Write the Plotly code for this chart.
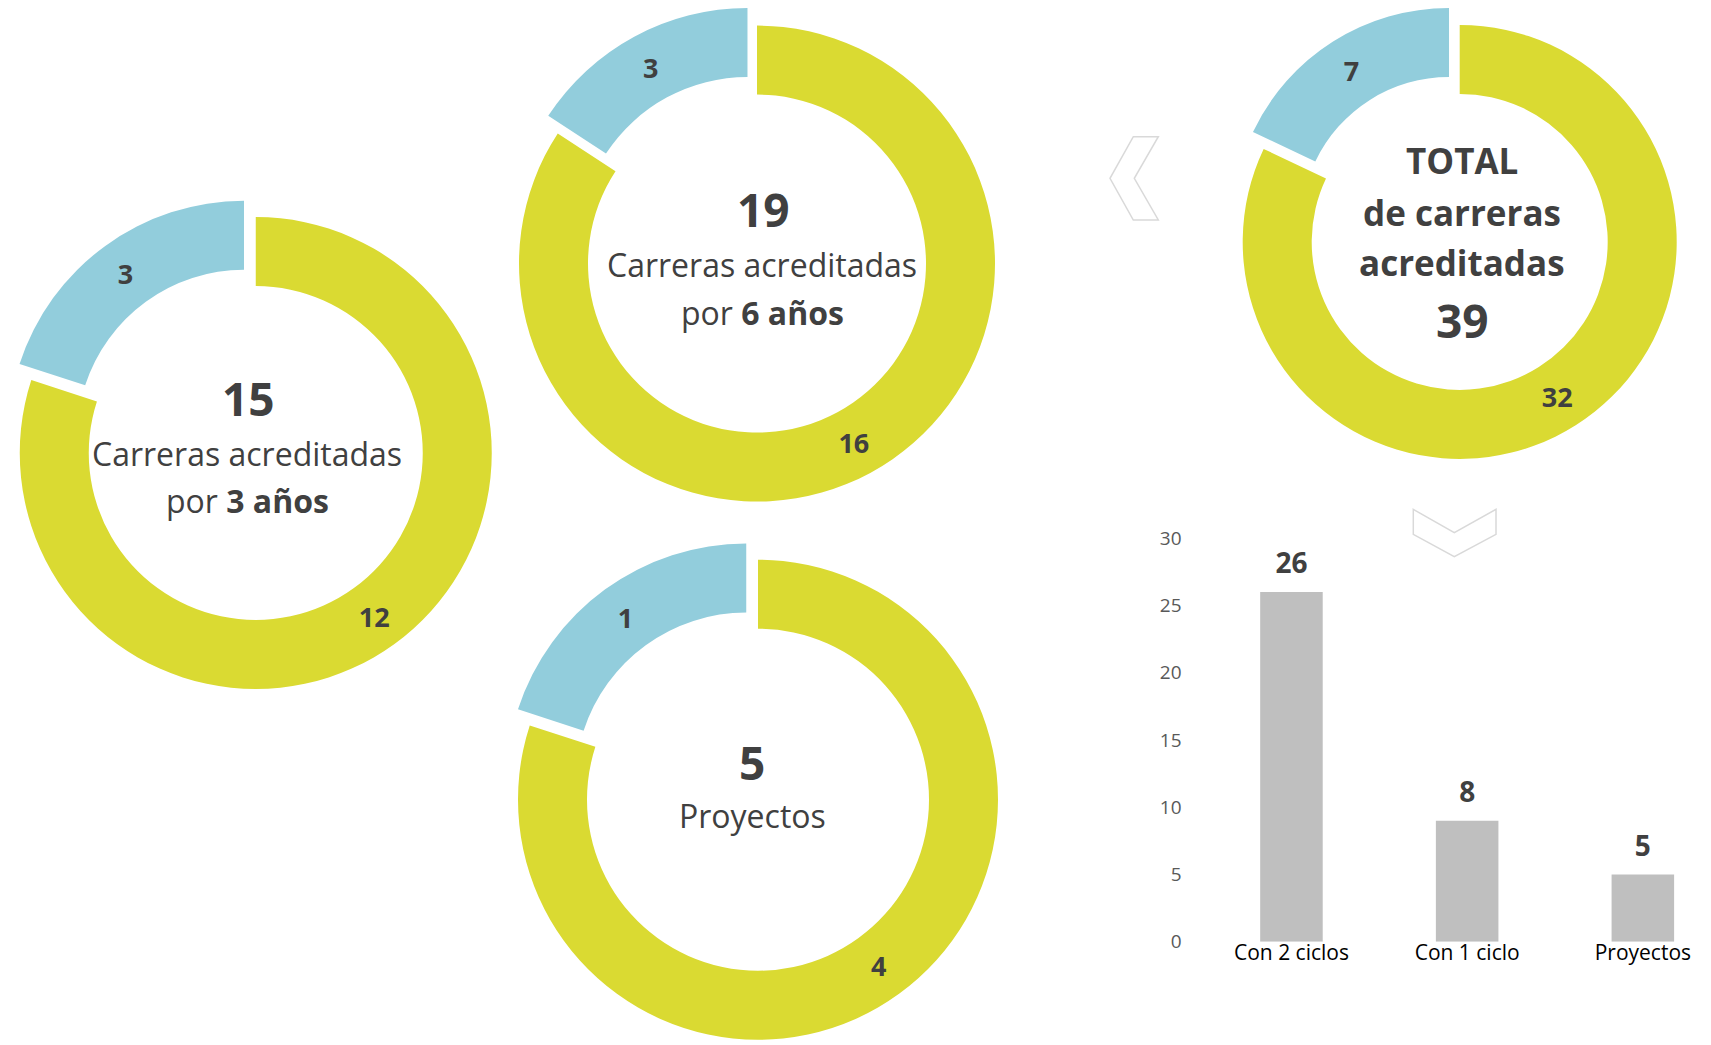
import math
import plotly.graph_objects as go

# ---------------- data ----------------
donut_names = ["3 años", "6 años", "Proyectos", "TOTAL"]
green_values = [12, 16, 4, 32]
blue_values = [3, 3, 1, 7]

bar_categories = ["Con 2 ciclos", "Con 1 ciclo", "Proyectos"]
bar_values = [26, 9, 5]
bar_labels = [26, 8, 5]
y_ticks = [0, 5, 10, 15, 20, 25, 30]

# ---------------- style / layout ----------------
W, H = 1711, 1045
PAGE_OFF = 8       # default body margin of the html page
GREEN = "#DADA32"
BLUE = "#92CDDC"
CLEAR = "rgba(0,0,0,0)"
TXT = "#404040"
FONT = "Open Sans"
RING = 69          # ring thickness in px
PULL_PX = 20       # explosion of the blue slice in px

# donut centre on the page (px) and outer radius (px)
donut_geom = [
    (248.7, 453.0, 236),
    (757.0, 262.2, 238),
    (758.0, 799.7, 240),
    (1459.7, 213.0, 217),
]


def fx(x):
    """page px -> paper fraction (x)"""
    return (x - PAGE_OFF) / W


def fy(y):
    """page px -> paper fraction (y)"""
    return 1 - (y - PAGE_OFF) / H


def fit(c, r, d, size):
    lo = max(r, r - d)
    hi = min(size - r, size - r - d)
    return min(max(c, lo), hi)


def dom(cx, cy, r):
    return dict(x=[max(0.0, (cx - r) / W), min(1.0, (cx + r) / W)],
                y=[max(0.0, 1 - (cy + r) / H), min(1.0, 1 - (cy - r) / H)])


fig = go.Figure()

for i in range(len(green_values)):
    g, b = green_values[i], blue_values[i]
    pcx, pcy, r = donut_geom[i]
    half = math.pi * b / (g + b)
    dx = -PULL_PX * math.sin(half)
    dy = -PULL_PX * math.cos(half)
    cx = fit(pcx - PAGE_OFF, r, dx, W)
    cy = fit(pcy - PAGE_OFF, r, dy, H)
    hole = (r - RING) / r
    common = dict(
        values=[g, b],
        labels=["acreditadas", "otras"],
        sort=False,
        direction="clockwise",
        rotation=0,
        hole=hole,
        textposition="inside",
        insidetextorientation="horizontal",
        textfont=dict(family=FONT, size=27, color=TXT),
        showlegend=False,
        hoverinfo="label+value",
    )
    fig.add_trace(go.Pie(
        domain=dom(cx, cy, r),
        marker=dict(colors=[GREEN, CLEAR], line=dict(width=0)),
        texttemplate=["<b>%{value}</b>", ""],
        **common,
    ))
    fig.add_trace(go.Pie(
        domain=dom(cx + dx, cy + dy, r),
        marker=dict(colors=[CLEAR, BLUE], line=dict(width=0)),
        texttemplate=["", "<b>%{value}</b>"],
        **common,
    ))

# ---------------- bar chart ----------------
fig.add_trace(go.Bar(
    x=bar_categories, y=bar_values,
    marker=dict(color="#BFBFBF", line=dict(width=0)),
    showlegend=False, hoverinfo="x+y",
))
fig.add_trace(go.Scatter(
    x=bar_categories, y=bar_values, mode="markers+text",
    marker=dict(size=17, opacity=0),
    text=[f"<b>{v}</b>" for v in bar_labels],
    textposition="top center",
    textfont=dict(family=FONT, size=28, color=TXT),
    cliponaxis=False, showlegend=False, hoverinfo="skip",
))

# ---------------- centre texts ----------------
totals = [g + b for g, b in zip(green_values, blue_values)]
center_texts = [
    # (text, x page px, y page px, size)
    (f"<b>{totals[0]}</b>", 248.3, 398.3, 46),
    ("Carreras acreditadas", 247.0, 453.3, 32),
    (f"por <b>{donut_names[0]}</b>", 247.3, 501.0, 32),
    (f"<b>{totals[1]}</b>", 763.3, 208.7, 46),
    ("Carreras acreditadas", 762.3, 264.0, 32),
    (f"por <b>{donut_names[1]}</b>", 762.3, 312.7, 32),
    (f"<b>{totals[2]}</b>", 752.3, 761.7, 46),
    (donut_names[2], 752.5, 815.3, 32),
    (f"<b>{donut_names[3]}</b>", 1462.3, 160.7, 35),
    ("<b>de carreras</b>", 1462.3, 212.3, 35),
    ("<b>acreditadas</b>", 1462.3, 262.0, 35),
    (f"<b>{totals[3]}</b>", 1462.3, 320.0, 46),
]
annotations = [
    dict(text=t, x=fx(x), y=fy(y), xref="paper", yref="paper",
         xanchor="center", yanchor="middle", showarrow=False,
         font=dict(family=FONT, size=s, color=TXT))
    for t, x, y, s in center_texts
]

# ---------------- decorative chevrons ----------------
chev_left = [(1158.3, 136.7), (1133.3, 136.7), (1110.0, 178.3),
             (1133.3, 220.0), (1158.3, 220.0), (1134.3, 178.3)]
chev_down = [(1413.3, 509.3), (1454.3, 532.7), (1496.0, 509.3),
             (1496.0, 534.3), (1454.3, 556.7), (1413.3, 534.3)]


def path_of(pts):
    return "M " + " L ".join(f"{fx(x):.5f},{fy(y):.5f}" for x, y in pts) + " Z"


shapes = [
    dict(type="path", path=path_of(p), xref="paper", yref="paper",
         line=dict(color="#D9D9D9", width=1.5), fillcolor="rgba(255,255,255,0)")
    for p in (chev_left, chev_down)
]

x_left = 1203.6          # page px where the category band of the bars starts
unit = 175.7             # px per category
x_left_fig = x_left - PAGE_OFF
fig.update_layout(
    width=W, height=H,
    margin=dict(l=0, r=0, t=0, b=0, pad=0, autoexpand=False),
    paper_bgcolor="white", plot_bgcolor="white",
    font=dict(family=FONT, color=TXT),
    bargap=0.644,
    annotations=annotations,
    shapes=shapes,
    xaxis=dict(
        domain=[x_left_fig / W, 1.0],
        range=[-0.5, -0.5 + (W - x_left_fig) / unit],
        showgrid=False, zeroline=False, showline=False, ticks="",
        automargin=False,
        tickfont=dict(family=FONT, size=21, color="#000000"),
        ticklabelstandoff=-4,
        fixedrange=True,
    ),
    yaxis=dict(
        domain=[fy(941.7), fy(538.3)],
        range=[0, 30],
        tickvals=y_ticks,
        showgrid=False, zeroline=False, showline=False, ticks="",
        automargin=False,
        tickfont=dict(family=FONT, size=19, color="#595959"),
        ticklabelstandoff=21,
        fixedrange=True,
    ),
)

fig.write_html("out.html")
